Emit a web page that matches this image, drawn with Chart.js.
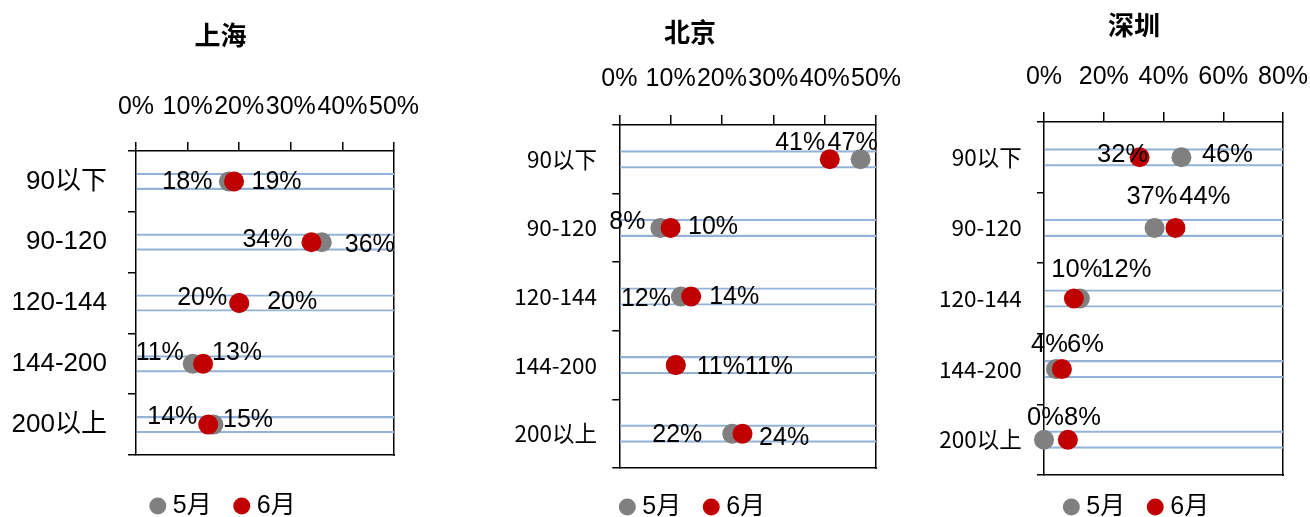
<!DOCTYPE html>
<html>
<head>
<meta charset="utf-8">
<script src="https://cdn.jsdelivr.net/npm/chart.js@4.4.1/dist/chart.umd.min.js"></script>
<style>
html, body { margin: 0; padding: 0; background: #fff; overflow: hidden; width: 1310px; height: 517px; }
canvas { position: absolute; top: 0; }
</style>
</head>
<body>
<canvas id="sh" width="441" height="517" style="left:0px"></canvas>
<canvas id="bj" width="440" height="517" style="left:470px"></canvas>
<canvas id="sz" width="408" height="517" style="left:930px"></canvas>
<script>
// 面积段 & 月份
const categories = ['90以下', '90-120', '120-144', '144-200', '200以上'];
const seriesNames = ['5月', '6月'];

// 上海
const shMay = [18, 36, 20, 11, 15];
const shJun = [19, 34, 20, 13, 14];
const shTicks = [0, 10, 20, 30, 40, 50];
// 北京
const bjMay = [47, 8, 12, 11, 22];
const bjJun = [41, 10, 14, 11, 24];
const bjTicks = [0, 10, 20, 30, 40, 50];
// 深圳
const szMay = [46, 37, 12, 4, 0];
const szJun = [32, 44, 10, 6, 8];
const szTicks = [0, 20, 40, 60, 80];

const GRAY = '#808080';
const RED = '#C00000';
const GUIDE = '#95B3D7';
const LATIN = "'Liberation Sans', 'Noto Sans CJK SC', sans-serif";
const CJK = "'Noto Sans CJK SC', sans-serif";

Chart.defaults.font.family = LATIN;
Chart.defaults.color = '#000';

// 数据标签（手动摆放，和原图一样）
const pointLabels = {
    id: 'pointLabels',
    afterDatasetsDraw(chart, args, opts) {
        const ctx = chart.ctx;
        ctx.save();
        ctx.font = opts.size + 'px ' + LATIN;
        ctx.fillStyle = '#000';
        ctx.textAlign = 'center';
        ctx.textBaseline = 'middle';
        chart.data.datasets.forEach((ds, di) => {
            if (!ds.nudge) return;
            chart.getDatasetMeta(di).data.forEach((pt, i) => {
                const [dx, dy] = ds.nudge[i];
                ctx.fillText(ds.data[i] + '%', pt.x + dx, pt.y + dy);
            });
        });
        ctx.restore();
    }
};

// 底部图例：圆点 + 文字
const dotLegend = {
    id: 'dotLegend',
    afterDraw(chart, args, opts) {
        const ctx = chart.ctx;
        const items = chart.data.datasets.filter(d => d.type === 'line');
        const r = 8.5, gap = 15, after = 30;
        ctx.save();
        ctx.font = opts.size + 'px ' + LATIN;
        ctx.textAlign = 'left';
        ctx.textBaseline = 'middle';
        const widths = items.map(d => ctx.measureText(d.label).width);
        let total = r;
        widths.forEach((w, i) => { total += gap + w + (i < widths.length - 1 ? after : 0); });
        let x = chart.width / 2 + opts.shift - total / 2 + r;
        items.forEach((d, i) => {
            ctx.fillStyle = d.backgroundColor;
            ctx.beginPath();
            ctx.arc(x, opts.y, r, 0, Math.PI * 2);
            ctx.fill();
            ctx.fillStyle = '#000';
            ctx.fillText(d.label, x + gap, opts.y);
            x += gap + widths[i] + after;
        });
        ctx.restore();
    }
};

function makePanel(p) {
    const ticks = p.ticks;
    const lo = ticks[0], hi = ticks[ticks.length - 1];
    const frame = { color: '#000', width: 1.5 };
    new Chart(document.getElementById(p.id), {
        type: 'bar',
        data: {
            labels: categories,
            datasets: [
                {
                    type: 'line', label: seriesNames[0], data: p.may, nudge: p.mayNudge,
                    indexAxis: 'y', xAxisID: 'x', yAxisID: 'y',
                    showLine: false, pointRadius: 10, pointHoverRadius: 10, pointBorderWidth: 0,
                    backgroundColor: GRAY, borderColor: GRAY, order: 2, clip: false
                },
                {
                    type: 'line', label: seriesNames[1], data: p.jun, nudge: p.junNudge,
                    indexAxis: 'y', xAxisID: 'x', yAxisID: 'y',
                    showLine: false, pointRadius: 10, pointHoverRadius: 10, pointBorderWidth: 0,
                    backgroundColor: RED, borderColor: RED, order: 1, clip: false
                },
                {
                    type: 'bar', label: 'guide', data: categories.map(() => [lo, hi]),
                    xAxisID: 'x', yAxisID: 'y',
                    backgroundColor: 'rgba(0,0,0,0)', borderColor: GUIDE,
                    borderWidth: { top: 1.5, bottom: 1.5, left: 0, right: 0 },
                    borderSkipped: false, barThickness: p.guide, order: 3
                }
            ]
        },
        options: {
            responsive: false,
            animation: false,
            indexAxis: 'y',
            events: [],
            layout: { padding: { top: 0, left: 0, right: 0, bottom: p.padBottom } },
            plugins: {
                legend: { display: false },
                tooltip: { enabled: false },
                title: {
                    display: true, text: p.title, color: '#000',
                    font: { size: 26, weight: 'bold', family: CJK },
                    padding: { top: p.titleTop, bottom: 0 }
                },
                pointLabels: { size: p.labelSize },
                dotLegend: { size: 25, y: p.legendY, shift: 2 }
            },
            scales: {
                x: {
                    type: 'linear', position: 'top', min: lo, max: hi,
                    afterBuildTicks: s => { s.ticks = ticks.map(v => ({ value: v })); },
                    ticks: {
                        callback: v => v + '%', font: { size: 25 }, padding: p.xPad,
                        autoSkip: false, maxRotation: 0, minRotation: 0
                    },
                    grid: { drawOnChartArea: false, tickLength: p.xTick, color: '#000', lineWidth: 1.5 },
                    border: frame,
                    afterFit: s => { s.height = p.topH; s.paddingLeft = 0; s.paddingRight = 0; }
                },
                y: {
                    type: 'category', position: 'left',
                    ticks: { font: { size: p.yFont, family: p.yFamily }, padding: p.yPad },
                    grid: { drawOnChartArea: false, tickLength: p.yTick, color: '#000', lineWidth: 1.5, offset: true },
                    border: frame,
                    afterFit: s => { s.width = p.leftW; s.paddingTop = 0; s.paddingBottom = 0; }
                },
                xb: {
                    axis: 'x', type: 'linear', position: 'bottom',
                    ticks: { display: false },
                    grid: { drawOnChartArea: false, drawTicks: false },
                    border: frame,
                    afterFit: s => { s.height = 0; s.paddingLeft = 0; s.paddingRight = 0; }
                },
                yr: {
                    axis: 'y', type: 'linear', position: 'right',
                    ticks: { display: false },
                    grid: { drawOnChartArea: false, drawTicks: false },
                    border: frame,
                    afterFit: s => { s.width = p.rightW; s.paddingTop = 0; s.paddingBottom = 0; }
                }
            }
        },
        plugins: [pointLabels, dotLegend]
    });
}

makePanel({
    id: 'sh', title: '上海', may: shMay, jun: shJun, ticks: shTicks,
    mayNudge: [[-41.5, 1], [48, 3], [-37, -4.5], [-33, -10.5], [34.6, -4.5]],
    junNudge: [[42.5, 1], [-44, -2], [53, -0.5], [34, -10.5], [-36, -7.5]],
    titleTop: 19.4, topH: 100.4, padBottom: 62, leftW: 136, rightW: 47,
    xTick: 9, xPad: 19.6, yTick: 8, yPad: 21, yFont: 26, yFamily: LATIN,
    guide: 16.5, labelSize: 25, legendY: 506
});

makePanel({
    id: 'bj', title: '北京', may: bjMay, jun: bjJun, ticks: bjTicks,
    mayNudge: [[-8, -16], [-33, -6], [-35, 2.5], [45, 2], [-55, 1.3]],
    junNudge: [[-29.6, -16], [42.4, -1], [43, 0.5], [93, 2], [41.6, 4.3]],
    titleTop: 16.4, topH: 77.4, padBottom: 49, leftW: 149.3, rightW: 34,
    xTick: 10, xPad: 20.6, yTick: 7, yPad: 15.3, yFont: 22.5, yFamily: CJK,
    guide: 17.5, labelSize: 25, legendY: 507
});

makePanel({
    id: 'sz', title: '深圳', may: szMay, jun: szJun, ticks: szTicks,
    mayNudge: [[46, -2.3], [-2.6, -31], [46, -28.5], [-6.5, -24], [1.5, -21.7]],
    junNudge: [[-17, -2.3], [29.4, -31], [3, -28.5], [23.5, -24], [14.6, -21.7]],
    titleTop: 9.4, topH: 81.4, padBottom: 42, leftW: 114, rightW: 55,
    xTick: 10, xPad: 19.6, yTick: 7, yPad: 15.3, yFont: 22.5, yFamily: CJK,
    guide: 17.5, labelSize: 25.5, legendY: 507
});
</script>
</body>
</html>
